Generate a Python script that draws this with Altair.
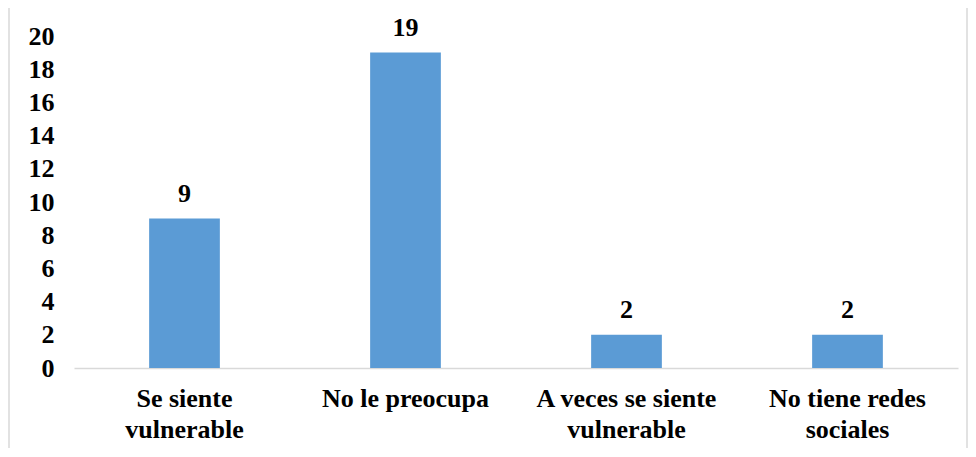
import altair as alt
import pandas as pd

categories = ["Se siente vulnerable", "No le preocupa", "A veces se siente vulnerable", "No tiene redes sociales"]
label_lines = [["Se siente", "vulnerable"], ["No le preocupa"], ["A veces se siente", "vulnerable"], ["No tiene redes", "sociales"]]
values = [9, 19, 2, 2]

df = pd.DataFrame({"cat": categories, "val": values})

expr_parts = []
for c, lines in zip(categories, label_lines):
    arr = "[" + ",".join("'" + l + "'" for l in lines) + "]"
    expr_parts.append(f"datum.label == '{c}' ? {arr} : ")
label_expr = "".join(expr_parts) + "datum.label"

FONT = "Liberation Serif"

x = alt.X("cat:N", sort=categories, title=None,
          scale=alt.Scale(paddingInner=0.68, paddingOuter=0.34),
          axis=alt.Axis(labelAngle=0, labelExpr=label_expr, labelFont=FONT, labelFontSize=26,
                        labelFontWeight="bold", labelColor="black", labelPadding=17,
                        labelLineHeight=31, labelLimit=400, ticks=False,
                        domainColor="#d9d9d9", domainWidth=1.5, labelBaseline="top"))
y = alt.Y("val:Q", title=None,
          scale=alt.Scale(domain=[0, 20]),
          axis=alt.Axis(values=list(range(0, 21, 2)), labelFont=FONT, labelFontSize=26,
                        labelFontWeight="bold", labelColor="black", labelPadding=20,
                        ticks=False, domain=False, grid=False))

bars = alt.Chart(df).mark_bar(color="#5B9BD5").encode(x=x, y=y)
text = alt.Chart(df).mark_text(font=FONT, fontSize=26, fontWeight="bold", color="black",
                               baseline="bottom", dy=-12).encode(x=x, y=y, text="val:Q")

frame = alt.Chart(pd.DataFrame({"a": [0]})).mark_rect(fill=None, stroke="#d9d9d9", strokeWidth=1.5).encode(
    x=alt.value(-65), x2=alt.value(893), y=alt.value(-29), y2=alt.value(440))

chart = alt.layer(frame, bars, text).properties(
    width=884, height=332,
    autosize=alt.AutoSizeParams(type="none"),
    padding={"left": 66, "top": 28, "right": 10, "bottom": 80},
).configure_view(stroke=None)

chart.save("out.html", embed_options={"renderer": "svg", "actions": False})
